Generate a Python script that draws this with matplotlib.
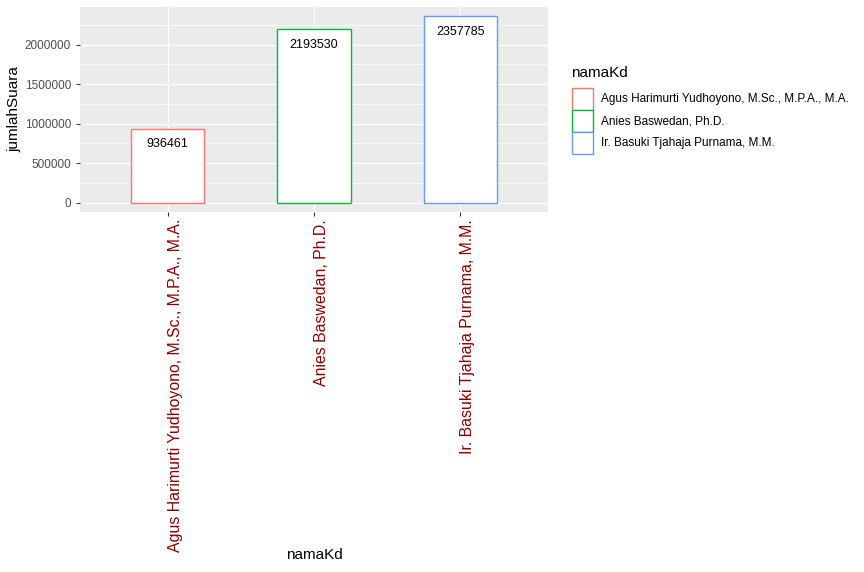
import matplotlib.pyplot as plt
from matplotlib.patches import Patch
from matplotlib.ticker import MultipleLocator

# data
nama_kd = ["Agus Harimurti Yudhoyono, M.Sc., M.P.A., M.A.",
           "Anies Baswedan, Ph.D.",
           "Ir. Basuki Tjahaja Purnama, M.M."]
jumlah_suara = [936461, 2193530, 2357785]
colors = ["#F8766D", "#00BA38", "#619CFF"]

plt.rcParams['font.family'] = ['Liberation Sans', 'DejaVu Sans']

fig = plt.figure(figsize=(8.64, 5.72), dpi=100)
ax = fig.add_axes([0.0926, 0.6294, 0.5417, 0.3584])
ax.set_facecolor("#EBEBEB")

x = list(range(1, len(nama_kd) + 1))
ax.bar(x, jumlah_suara, width=0.5, color="white", edgecolor=colors,
       linewidth=1.0, zorder=3)
for xi, v in zip(x, jumlah_suara):
    ax.annotate(str(v), (xi, v), xytext=(0, -7), textcoords="offset points",
                ha="center", va="top", fontsize=9, color="black", zorder=4)

top = max(jumlah_suara)
ax.set_ylim(-0.05 * top, 1.05 * top)
ax.set_xlim(0.4, 3.6)
ax.yaxis.set_major_locator(MultipleLocator(500000))
ax.yaxis.set_minor_locator(MultipleLocator(250000))
ax.set_xticks(x)
ax.set_xticklabels(nama_kd, rotation=90, color="#8B0000", fontsize=11.4,
                   ha="left")
ax.set_yticks([0, 500000, 1000000, 1500000, 2000000])
ax.set_yticklabels(["0", "500000", "1000000", "1500000", "2000000"],
                   color="#4D4D4D", fontsize=8.5)

ax.grid(which="major", color="white", linewidth=1.0, zorder=0)
ax.grid(which="minor", axis="y", color="white", linewidth=0.5, zorder=0)
ax.tick_params(which="major", length=3, color="#333333", width=0.8)
ax.tick_params(axis="x", pad=2)
ax.tick_params(which="minor", length=0)
for s in ax.spines.values():
    s.set_visible(False)
ax.set_axisbelow(True)

ax.set_xlabel("namaKd", fontsize=11, labelpad=-3)
ax.set_ylabel("jumlahSuara", fontsize=11, labelpad=2)

handles = [Patch(facecolor="white", edgecolor=c, linewidth=1.0) for c in colors]
leg = fig.legend(handles, nama_kd, title="namaKd", loc="upper left",
                 bbox_to_anchor=(0.656, 0.893), frameon=False, fontsize=8.5,
                 title_fontsize=11, handlelength=1.86, handleheight=2.49,
                 labelspacing=0.0, handletextpad=0.68, borderaxespad=0)
leg._legend_box.align = "left"
leg._legend_box.sep = 5.5  # gap between title and keys

fig.savefig("out.png", dpi=100)
